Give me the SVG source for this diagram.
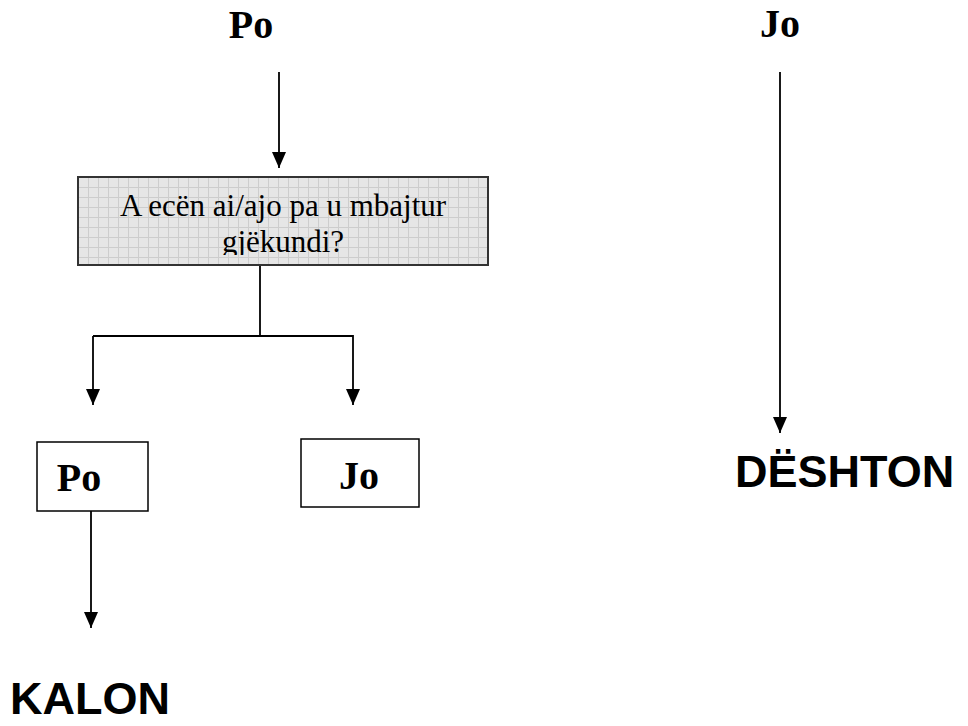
<svg xmlns="http://www.w3.org/2000/svg" width="968" height="726" viewBox="0 0 968 726">
  <style>
    .lbl { font-family: "Liberation Serif", "Times New Roman", serif; font-weight: bold; font-size: 40px; fill: #000; }
    .q { font-family: "Liberation Serif", "Times New Roman", serif; font-size: 31px; fill: #000; }
    .res { font-family: "Liberation Sans", Arial, sans-serif; font-weight: bold; font-size: 45px; fill: #000; }
    .box { fill: #fff; stroke: #000; stroke-width: 1.5; }
    .conn { fill: none; stroke: #000; stroke-width: 1.8; }
  </style>
  <defs>
    <marker id="ah" markerUnits="userSpaceOnUse" markerWidth="16" markerHeight="14" viewBox="0 0 16 14" refX="16" refY="7" orient="auto">
      <path d="M0,0 L16,7 L0,14 Z" fill="#000"/>
    </marker>
    <pattern id="grid" width="10" height="10" patternUnits="userSpaceOnUse" x="78" y="177">
      <rect width="10" height="10" fill="#e6e6e6"/>
      <path d="M0,0.5 H10 M0.5,0 V10" stroke="#cdcdcd" stroke-width="1"/>
    </pattern>
    <clipPath id="qclip">
      <rect x="79" y="178" width="408" height="77"/>
    </clipPath>
  </defs>

  <g id="connectors">
    <line class="conn" x1="279" y1="72" x2="279" y2="168" marker-end="url(#ah)"/>
    <line class="conn" x1="780" y1="72" x2="780" y2="433" marker-end="url(#ah)"/>
    <polyline class="conn" points="260,265 260,336"/>
    <polyline class="conn" points="93,336 353,336 353,405" marker-end="url(#ah)"/>
    <line class="conn" x1="93" y1="336" x2="93" y2="405" marker-end="url(#ah)"/>
    <line class="conn" x1="91" y1="511" x2="91" y2="628" marker-end="url(#ah)"/>
  </g>

  <g id="top-po">
    <text class="lbl" x="251" y="38" text-anchor="middle">Po</text>
  </g>
  <g id="top-jo">
    <text class="lbl" x="780" y="37" text-anchor="middle">Jo</text>
  </g>

  <g id="question">
    <rect x="78" y="177" width="410" height="88" fill="url(#grid)" stroke="#333" stroke-width="2"/>
    <g clip-path="url(#qclip)">
      <text class="q" x="283" y="216" text-anchor="middle">A ecën ai/ajo pa u mbajtur</text>
      <text class="q" x="283" y="252" text-anchor="middle">gjëkundi?</text>
    </g>
  </g>

  <g id="ans-po">
    <rect class="box" x="37" y="442" width="111" height="69"/>
    <text class="lbl" x="79" y="491" text-anchor="middle">Po</text>
  </g>
  <g id="ans-jo">
    <rect class="box" x="301" y="439" width="118" height="68"/>
    <text class="lbl" x="359" y="489" text-anchor="middle">Jo</text>
  </g>

  <g id="kalon">
    <text class="res" x="10" y="714">KALON</text>
  </g>
  <g id="deshton">
    <text class="res" x="735" y="487">DËSHTON</text>
  </g>
</svg>
